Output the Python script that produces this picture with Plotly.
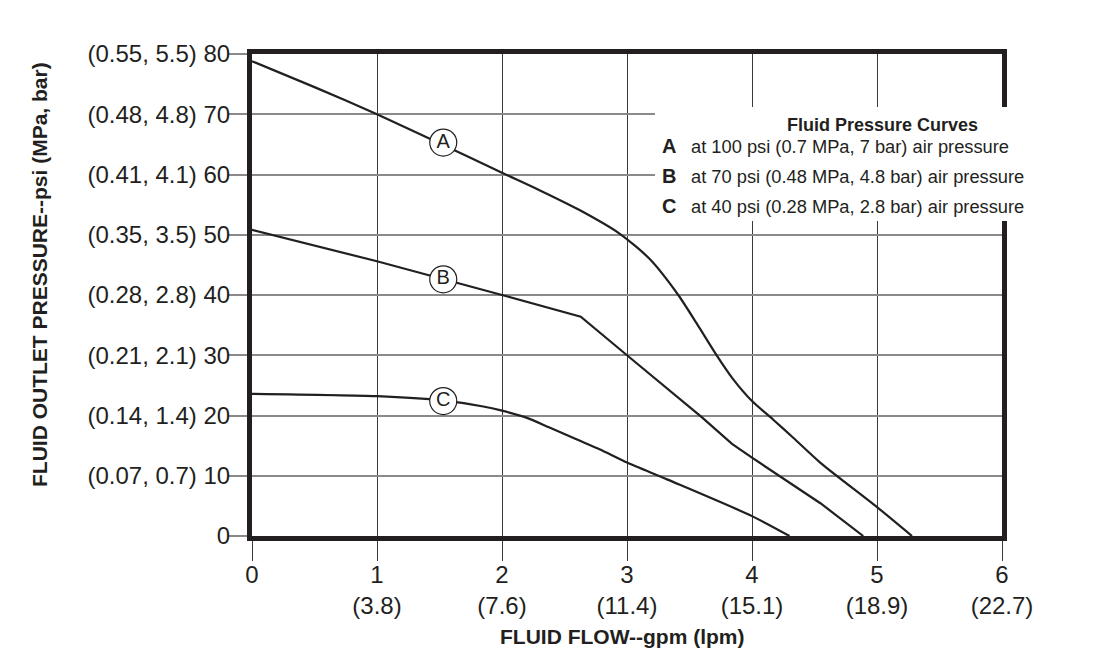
import plotly.graph_objects as go

# ---- data ----
flow_a = [0, 0.5, 1.0, 1.5, 2.0, 2.3, 2.62, 2.94, 3.18, 3.41, 3.56, 3.72, 3.85, 4.0, 4.17, 4.33, 4.55, 5.0, 5.28]
psi_a = [78.8, 74.5, 70.0, 65.2, 60.3, 57.4, 54.1, 50.2, 46.0, 40.0, 35.2, 29.9, 26.0, 22.4, 19.3, 16.3, 12.1, 4.8, 0]

flow_b = [0, 1.0, 2.0, 2.63, 3.0, 3.6, 3.84, 4.0, 4.55, 4.89]
psi_b = [50.8, 45.6, 40.0, 36.4, 30.0, 19.7, 15.3, 13.0, 5.4, 0]

flow_c = [0, 1.0, 1.52, 1.85, 2.0, 2.2, 2.38, 2.6, 2.78, 3.0, 3.32, 4.0, 4.3]
psi_c = [23.6, 23.2, 22.5, 21.5, 20.8, 19.6, 18.0, 16.0, 14.4, 12.2, 9.4, 3.3, 0]

curve_letters = ["A", "B", "C"]
label_flow = [1.53, 1.53, 1.53]
label_psi = [65.3, 42.6, 22.4]

x_tickvals = [0, 1, 2, 3, 4, 5, 6]
x_ticktext = ["0", "1<br>(3.8)", "2<br>(7.6)", "3<br>(11.4)", "4<br>(15.1)", "5<br>(18.9)", "6<br>(22.7)"]
y_tickvals = [0, 10, 20, 30, 40, 50, 60, 70, 80]
y_ticktext = ["0", "(0.07, 0.7) 10", "(0.14, 1.4) 20", "(0.21, 2.1) 30", "(0.28, 2.8) 40",
              "(0.35, 3.5) 50", "(0.41, 4.1) 60", "(0.48, 4.8) 70", "(0.55, 5.5) 80"]

legend_title = "Fluid Pressure Curves"
legend_lines = ["at 100 psi (0.7 MPa, 7 bar) air pressure",
                "at 70 psi (0.48 MPa, 4.8 bar) air pressure",
                "at 40 psi (0.28 MPa, 2.8 bar) air pressure"]

x_title = "FLUID FLOW--gpm (lpm)"
y_title = "FLUID OUTLET PRESSURE--psi (MPa, bar)"

# ---- figure ----
FONT = "Liberation Sans, Arial, Helvetica, sans-serif"
INK = "#231f20"

fig = go.Figure()
for fx, fy, shp in [(flow_a, psi_a, "spline"), (flow_b, psi_b, "linear"), (flow_c, psi_c, "spline")]:
    fig.add_trace(go.Scatter(x=fx, y=fy, mode="lines",
                             line=dict(color=INK, width=2.2, shape=shp, smoothing=0.7),
                             hoverinfo="skip", showlegend=False))

fig.add_trace(go.Scatter(x=label_flow, y=label_psi, mode="markers+text", text=curve_letters,
                         textposition="middle center",
                         textfont=dict(family=FONT, size=20, color=INK),
                         marker=dict(symbol="circle", size=27, color="white", line=dict(color=INK, width=1.2)),
                         hoverinfo="skip", showlegend=False))

# page body has an 8px margin; place the plot so it lands at the reference pixels
OFF = 8
W, H = 1118, 672
L, T = 252 - OFF, 54 - OFF
PR, PB = 1002 - OFF, 536 - OFF          # plot right / bottom in figure px
R, B = W - PR, H - PB

fig.update_layout(
    width=W, height=H,
    margin=dict(l=L, r=R, t=T, b=B, pad=0),
    paper_bgcolor="white", plot_bgcolor="white",
    font=dict(family=FONT, color=INK),
    showlegend=False,
)

fig.update_xaxes(range=[0, 6], tickmode="array", tickvals=x_tickvals, ticktext=x_ticktext,
                 showgrid=True, gridcolor="#3a3a3a", gridwidth=1,
                 ticks="outside", ticklen=20, tickcolor="#3a3a3a", tickwidth=1,
                 ticklabelstandoff=-7,
                 showline=True, linecolor=INK, linewidth=5, mirror=True, zeroline=False,
                 tickfont=dict(family=FONT, size=24, color=INK), fixedrange=True)
fig.update_yaxes(range=[0, 80], tickmode="array", tickvals=y_tickvals, ticktext=y_ticktext,
                 showgrid=True, gridcolor="#8a8a8a", gridwidth=1.5,
                 ticks="outside", ticklen=19, tickcolor="#8a8a8a", tickwidth=1.5,
                 ticklabelstandoff=-7,
                 showline=True, linecolor=INK, linewidth=5, mirror=True, zeroline=False,
                 tickfont=dict(family=FONT, size=24, color=INK), fixedrange=True)

pw = PR - L
ph = PB - T
def px_x(px):
    # px in page coordinates
    return (px - OFF - L) / pw
def px_y(py):
    return (PB - (py - OFF)) / ph

# white legend box covering grid/border
fig.add_shape(type="rect", xref="paper", yref="paper",
              x0=px_x(655), x1=px_x(1026), y0=px_y(221), y1=px_y(107),
              fillcolor="white", line=dict(width=0), layer="above")

fig.add_annotation(xref="paper", yref="paper", x=px_x(882), y=px_y(125), text="<b>%s</b>" % legend_title,
                   showarrow=False, xanchor="center", yanchor="middle",
                   font=dict(family=FONT, size=18, color=INK))
for i, (letter, line) in enumerate(zip(curve_letters, legend_lines)):
    yy = px_y(146 + 30 * i)
    fig.add_annotation(xref="paper", yref="paper", x=px_x(669), y=yy, text="<b>%s</b>" % letter,
                       showarrow=False, xanchor="center", yanchor="middle",
                       font=dict(family=FONT, size=20, color=INK))
    fig.add_annotation(xref="paper", yref="paper", x=px_x(689), y=yy, text=line,
                       showarrow=False, xanchor="left", yanchor="middle",
                       font=dict(family=FONT, size=18.3, color=INK))

# axis titles
fig.add_annotation(xref="paper", yref="paper", x=px_x(622), y=px_y(636), text="<b>%s</b>" % x_title,
                   showarrow=False, xanchor="center", yanchor="middle",
                   font=dict(family=FONT, size=21, color=INK))
fig.add_annotation(xref="paper", yref="paper", x=px_x(39), y=px_y(275), text="<b>%s</b>" % y_title,
                   showarrow=False, xanchor="center", yanchor="middle", textangle=-90,
                   font=dict(family=FONT, size=21, color=INK))

fig.write_html("out.html")
